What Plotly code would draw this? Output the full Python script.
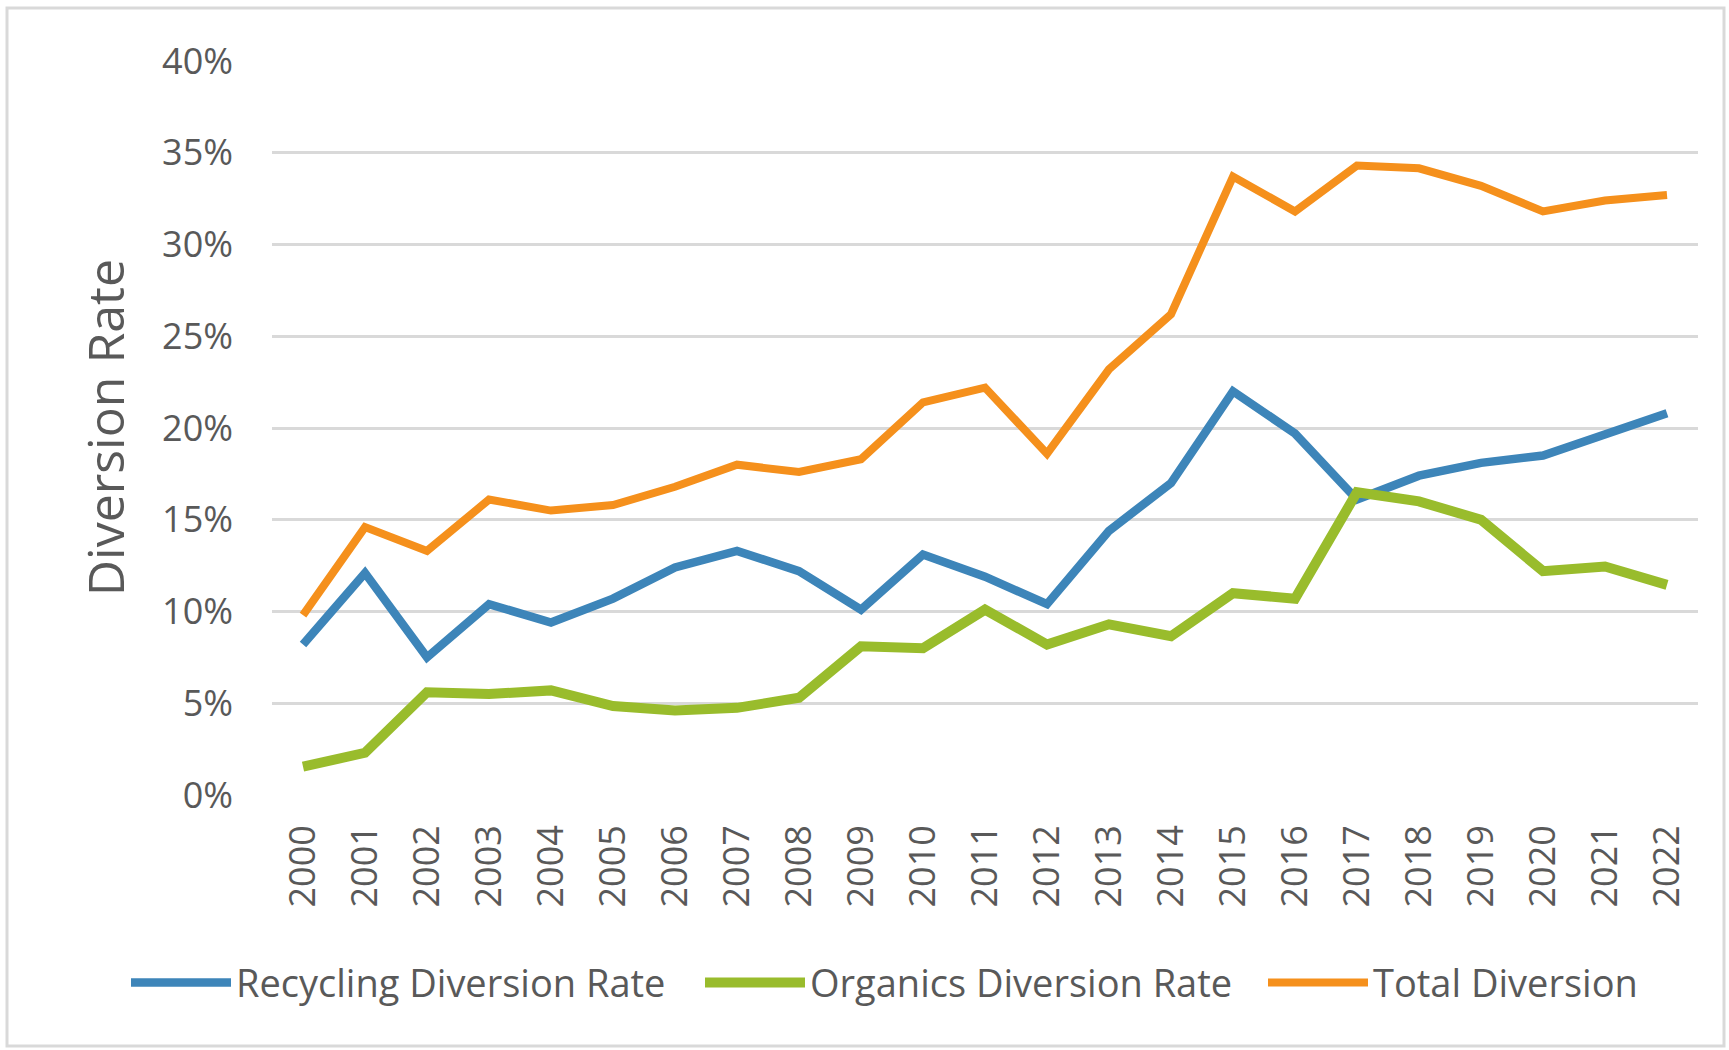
import plotly.graph_objects as go

years = [str(y) for y in range(2000, 2023)]
recycling = [8.2, 12.1, 7.5, 10.4, 9.4, 10.7, 12.4, 13.3, 12.2, 10.1, 13.1, 11.9,
             10.4, 14.4, 17.0, 22.0, 19.7, 16.1, 17.4, 18.1, 18.5, 19.7, 20.8]
organics = [1.55, 2.3, 5.6, 5.5, 5.7, 4.85, 4.6, 4.75, 5.3, 8.1, 8.0, 10.1,
            8.2, 9.3, 8.65, 11.0, 10.7, 16.5, 16.0, 15.0, 12.2, 12.45, 11.45]
total = [9.8, 14.6, 13.3, 16.1, 15.5, 15.8, 16.8, 18.0, 17.6, 18.3, 21.4, 22.2,
         18.6, 23.2, 26.2, 33.7, 31.8, 34.3, 34.15, 33.2, 31.8, 32.4, 32.7]
y_ticks = [0, 5, 10, 15, 20, 25, 30, 35, 40]
y_tick_labels = ["0%", "5%", "10%", "15%", "20%", "25%", "30%", "35%", "40%"]
series_names = ["Recycling Diversion Rate", "Organics Diversion Rate", "Total Diversion"]

FONT = "Open Sans, Lato, sans-serif"
GRAY = "#595959"
PLOT_L, PLOT_W = 272, 1426


def px_x(p):
    return (p - PLOT_L) / PLOT_W


fig = go.Figure()
fig.add_trace(go.Scatter(x=years, y=recycling, mode="lines", name=series_names[0],
                         line=dict(color="#3D85B9", width=8.5), legend="legend"))
fig.add_trace(go.Scatter(x=years, y=organics, mode="lines", name=series_names[1],
                         line=dict(color="#99BC2C", width=10), legend="legend2"))
fig.add_trace(go.Scatter(x=years, y=total, mode="lines", name=series_names[2],
                         line=dict(color="#F5901C", width=8), legend="legend3"))

legend_common = dict(orientation="h", y=-0.256, yanchor="middle", xanchor="left",
                     font=dict(size=38, color=GRAY, family=FONT), itemwidth=100,
                     bgcolor="rgba(0,0,0,0)")

fig.update_layout(
    width=1729, height=1050,
    margin=dict(l=PLOT_L, r=31, t=61, b=255),
    paper_bgcolor="white", plot_bgcolor="white",
    font=dict(family=FONT, color=GRAY),
    showlegend=True,
    legend=dict(x=px_x(126), **legend_common),
    legend2=dict(x=px_x(700), **legend_common),
    legend3=dict(x=px_x(1263), **legend_common),
    xaxis=dict(type="category", range=[-0.5, 22.5], showgrid=False, zeroline=False,
               showline=False, tickangle=-90, ticks="",
               tickfont=dict(size=36, color=GRAY, family=FONT), ticklabelstandoff=22),
    yaxis=dict(range=[0, 40], tickvals=y_ticks, ticktext=y_tick_labels, showgrid=True,
               gridcolor="#D9D9D9", gridwidth=3, zeroline=False, showline=False,
               ticks="", tickfont=dict(size=36, color=GRAY, family=FONT),
               ticklabelstandoff=38),
    annotations=[dict(text="Diversion Rate", textangle=-90, xref="paper", yref="paper",
                      x=-0.117, y=0.5, xanchor="center", yanchor="middle",
                      showarrow=False, font=dict(size=50, color=GRAY, family=FONT))],
    shapes=[dict(type="rect", xref="paper", yref="paper",
                 x0=px_x(7), x1=px_x(1724),
                 y0=(795 - 1046) / 734, y1=(795 - 8) / 734,
                 line=dict(color="#D9D9D9", width=3), fillcolor="rgba(0,0,0,0)",
                 layer="below")],
)

fig.write_html("out.html", config={"displayModeBar": False},
               post_script="document.body.style.margin='0';document.body.style.overflow='hidden';")
